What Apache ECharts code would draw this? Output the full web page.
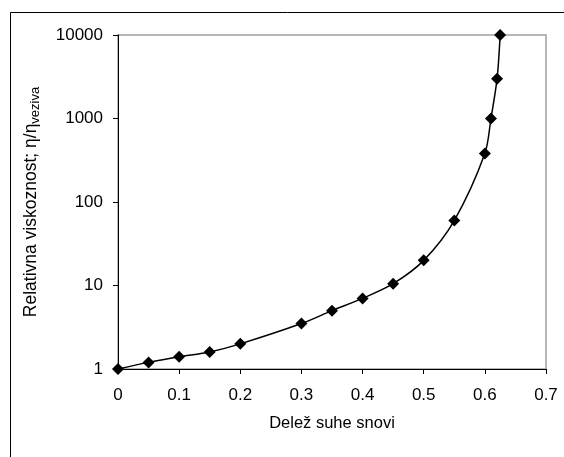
<!DOCTYPE html>
<html>
<head>
<meta charset="utf-8">
<script src="https://cdn.jsdelivr.net/npm/echarts@6/dist/echarts.min.js"></script>
<style>
  html, body { margin: 0; padding: 0; background: #fff; }
  #main { width: 564px; height: 457px; }
</style>
</head>
<body>
<div id="main"></div>
<script>
// delez suhe snovi (x) in relativna viskoznost (y)
let delez = [0, 0.05, 0.1, 0.15, 0.2, 0.3, 0.35, 0.4, 0.45, 0.5, 0.55, 0.6, 0.61, 0.62, 0.625]
let viskoznost = [1, 1.2, 1.4, 1.6, 2, 3.5, 5, 7, 10.5, 20, 60, 380, 1000, 3000, 10000]

let xName = 'Delež suhe snovi'
let yName = 'Relativna viskoznost; η/η{sub|veziva}'

let points = delez.map(function(x, i) { return [x, viskoznost[i]] })

let myChart = echarts.init(document.getElementById('main'))
let font = 'Liberation Sans, Arial, sans-serif'

var option = {
  animation: false,
  backgroundColor: '#fff',
  textStyle: { fontFamily: font },
  graphic: [{
    type: 'rect',
    shape: { x: 10.5, y: 12.5, width: 600, height: 500 },
    style: { fill: 'none', stroke: '#000', lineWidth: 1 },
    silent: true
  }],
  grid: {
    left: 118, top: 35, right: 18, bottom: 88,
    show: true,
    borderColor: '#a0a0a0',
    borderWidth: 1.5
  },
  xAxis: {
    type: 'value',
    min: 0, max: 0.7, interval: 0.1,
    name: xName,
    nameLocation: 'middle',
    nameGap: 46,
    nameTextStyle: { fontSize: 16.5, color: '#000', fontFamily: font },
    axisLine: { lineStyle: { color: '#000', width: 1 } },
    axisTick: { show: true, length: 5, lineStyle: { color: '#000' } },
    axisLabel: { fontSize: 17, color: '#000', margin: 18, fontFamily: font },
    splitLine: { show: false }
  },
  yAxis: {
    type: 'log',
    logBase: 10,
    min: 1, max: 10000,
    name: yName,
    nameLocation: 'middle',
    nameGap: 76,
    nameTextStyle: {
      fontSize: 17.5, color: '#000', fontFamily: font,
      rich: {
        sub: { fontSize: 13, color: '#000', fontFamily: font, padding: [8, 0, 0, 0] }
      }
    },
    axisLine: { show: true, lineStyle: { color: '#000', width: 1 } },
    axisTick: { show: true, length: 5, lineStyle: { color: '#000' } },
    axisLabel: {
      fontSize: 17, color: '#000', margin: 15, fontFamily: font,
      formatter: function(v) { return String(Math.round(v)) }
    },
    splitLine: { show: false }
  },
  series: [{
    type: 'line',
    data: points,
    smooth: 0.3,
    symbol: 'diamond',
    symbolSize: 12,
    itemStyle: { color: '#000' },
    lineStyle: { color: '#000', width: 1.5 }
  }]
}

myChart.setOption(option)
</script>
</body>
</html>
